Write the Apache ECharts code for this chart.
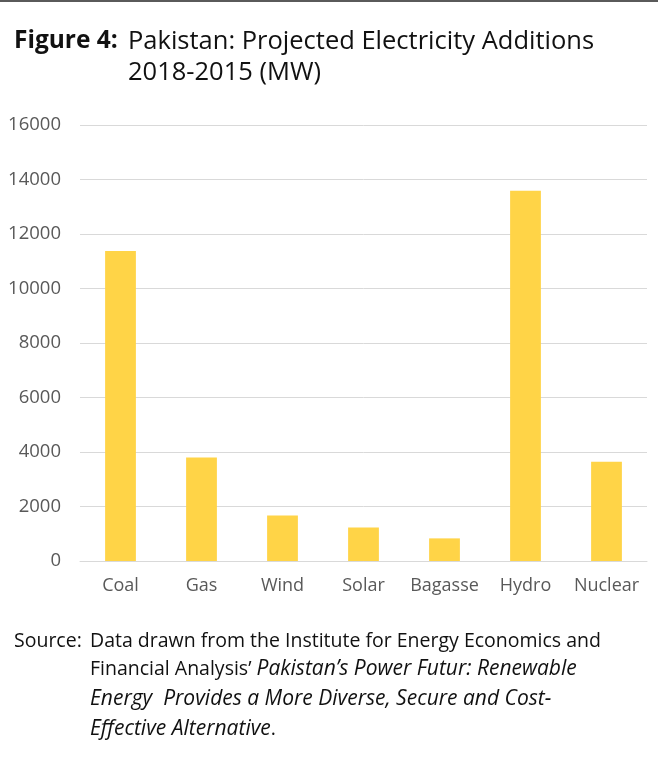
<!DOCTYPE html>
<html><head><meta charset="utf-8">
<script src="https://cdn.jsdelivr.net/npm/echarts@6/dist/echarts.min.js"></script>
<style>html,body{margin:0;padding:0;background:#fff}#c{width:658px;height:763px}</style>
</head><body><div id="c"></div>
<script>
const categories = ["Coal","Gas","Wind","Solar","Bagasse","Hydro","Nuclear"];
const additionsMW = [11380, 3800, 1670, 1230, 830, 13590, 3640];
const yTicks = {min: 0, max: 16000, interval: 2000};

const chart = echarts.init(document.getElementById('c'), null, {renderer: 'canvas'});
const font = "'Open Sans', sans-serif";
chart.setOption({
  backgroundColor: '#fff',
  animation: false,
  grid: {left: 80, right: 11, top: 125, bottom: 202, containLabel: false},
  xAxis: {
    type: 'category', data: categories,
    axisLine: {show: true, lineStyle: {color: '#d9d9d9', width: 1}},
    axisTick: {show: false},
    axisLabel: {color: '#595959', fontFamily: font, fontSize: 18, margin: 16, interval: 0}
  },
  yAxis: {
    type: 'value', min: yTicks.min, max: yTicks.max, interval: yTicks.interval,
    axisLine: {show: false}, axisTick: {show: false},
    splitLine: {lineStyle: {color: '#d9d9d9', width: 1}},
    axisLabel: {color: '#595959', fontFamily: font, fontSize: 18.5, margin: 19,
      formatter: v => String(v)}
  },
  series: [{
    type: 'bar', data: additionsMW, barWidth: '38%',
    itemStyle: {color: '#FFD447'}
  }],
  graphic: [
    {type: 'rect', shape: {x: 0, y: 0, width: 658, height: 2}, style: {fill: '#5a5a5a'}},
    {type: 'text', left: 14, top: 29, style: {text: 'Figure 4:', font: "bold 24.5px " + font, fill: '#111'}},
    {type: 'text', left: 128, top: 29, style: {text: 'Pakistan: Projected Electricity Additions', font: "25.5px " + font, fill: '#111'}},
    {type: 'text', left: 128, top: 60, style: {text: '2018-2015 (MW)', font: "25.5px " + font, fill: '#111'}},
    {type: 'text', left: 14, top: 631, style: {text: 'Source:', font: "19.5px " + font, fill: '#111'}},
    {type: 'text', left: 90, top: 631, style: {text: 'Data drawn from the Institute for Energy Economics and', font: "19.5px " + font, fill: '#111'}},
    {type: 'text', left: 90, top: 659, style: {
      text: "{n|Financial Analysis’ }{i|Pakistan’s Power Futur: Renewable}",
      rich: {n: {font: "19.5px " + font, fill: '#111'}, i: {font: "italic 21px " + font, fill: '#111'}}
    }},
    {type: 'text', left: 90, top: 689, style: {text: 'Energy  Provides a More Diverse, Secure and Cost-', font: "italic 21px " + font, fill: '#111'}},
    {type: 'text', left: 90, top: 719, style: {
      text: "{i|Effective Alternative}{n|.}",
      rich: {n: {font: "19.5px " + font, fill: '#111'}, i: {font: "italic 21px " + font, fill: '#111'}}
    }}
  ]
});
</script></body></html>
